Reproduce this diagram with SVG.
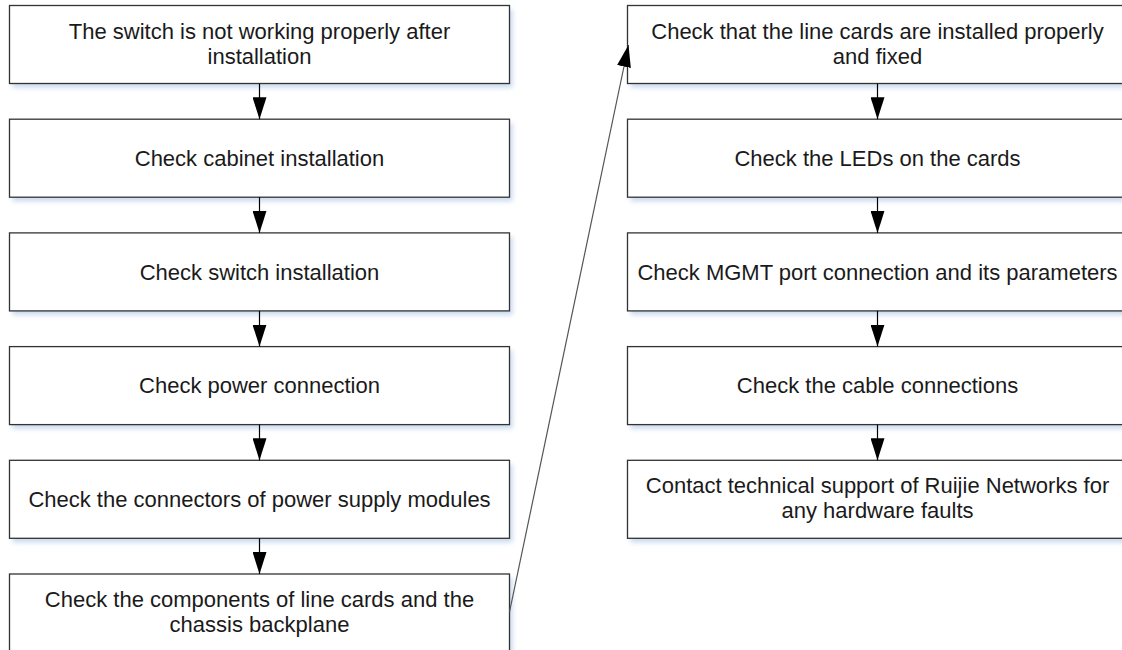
<svg xmlns="http://www.w3.org/2000/svg" width="1122" height="650" viewBox="0 0 1122 650">
<defs>
<style>
.box{fill:#ffffff;stroke:#333333;stroke-width:1.3}
.shadow{fill:#c9d9ef;filter:url(#blur)}
.t{font-family:"Liberation Sans",Arial,sans-serif;font-size:22px;fill:#1a1a1a;text-anchor:middle}
.conn{stroke:#000000;stroke-width:1.2;fill:none;marker-end:url(#ah)}
.diag{stroke:#555555;stroke-width:1.2;fill:none;marker-end:url(#ah)}
</style>
<filter id="blur" x="-5%" y="-20%" width="110%" height="140%"><feGaussianBlur stdDeviation="2.5"/></filter>
<marker id="ah" viewBox="0 0 22 14" refX="22" refY="7" markerWidth="22" markerHeight="14" markerUnits="userSpaceOnUse" orient="auto">
<path d="M0,0 L22,7 L0,14 z" fill="#000000"/>
</marker>
</defs>
<rect width="1122" height="650" fill="#ffffff"/>

<g id="n1"><rect class="shadow" x="12.5" y="9.5" width="500" height="78"/><rect class="box" x="9.5" y="5.5" width="500" height="78"/>
<text class="t" x="259.5" y="38.6">The switch is not working properly after</text><text class="t" x="259.5" y="63.6">installation</text></g>

<g id="n2"><rect class="shadow" x="12.5" y="123.2" width="500" height="78"/><rect class="box" x="9.5" y="119.2" width="500" height="78"/>
<text class="t" x="259.5" y="166">Check cabinet installation</text></g>

<g id="n3"><rect class="shadow" x="12.5" y="236.9" width="500" height="78"/><rect class="box" x="9.5" y="232.9" width="500" height="78"/>
<text class="t" x="259.5" y="279.7">Check switch installation</text></g>

<g id="n4"><rect class="shadow" x="12.5" y="350.6" width="500" height="78"/><rect class="box" x="9.5" y="346.6" width="500" height="78"/>
<text class="t" x="259.5" y="393.4">Check power connection</text></g>

<g id="n5"><rect class="shadow" x="12.5" y="464.3" width="500" height="78"/><rect class="box" x="9.5" y="460.3" width="500" height="78"/>
<text class="t" x="259.5" y="507.1">Check the connectors of power supply modules</text></g>

<g id="n6"><rect class="shadow" x="12.5" y="578" width="500" height="78"/><rect class="box" x="9.5" y="574" width="500" height="78"/>
<text class="t" x="259.5" y="606.9">Check the components of line cards and the</text><text class="t" x="259.5" y="631.9">chassis backplane</text></g>

<g id="n7"><rect class="shadow" x="630.5" y="9.5" width="500" height="78"/><rect class="box" x="627.5" y="5.5" width="500" height="78"/>
<text class="t" x="877.5" y="38.6">Check that the line cards are installed properly</text><text class="t" x="877.5" y="63.6">and fixed</text></g>

<g id="n8"><rect class="shadow" x="630.5" y="123.2" width="500" height="78"/><rect class="box" x="627.5" y="119.2" width="500" height="78"/>
<text class="t" x="877.5" y="166">Check the LEDs on the cards</text></g>

<g id="n9"><rect class="shadow" x="630.5" y="236.9" width="500" height="78"/><rect class="box" x="627.5" y="232.9" width="500" height="78"/>
<text class="t" x="877.5" y="279.7">Check MGMT port connection and its parameters</text></g>

<g id="n10"><rect class="shadow" x="630.5" y="350.6" width="500" height="78"/><rect class="box" x="627.5" y="346.6" width="500" height="78"/>
<text class="t" x="877.5" y="393.4">Check the cable connections</text></g>

<g id="n11"><rect class="shadow" x="630.5" y="464.3" width="500" height="78"/><rect class="box" x="627.5" y="460.3" width="500" height="78"/>
<text class="t" x="877.5" y="493.1">Contact technical support of Ruijie Networks for</text><text class="t" x="877.5" y="518.1">any hardware faults</text></g>

<g id="connectors">
<line class="conn" x1="259.5" y1="83.5" x2="259.5" y2="119.2"/>
<line class="conn" x1="259.5" y1="197.2" x2="259.5" y2="232.9"/>
<line class="conn" x1="259.5" y1="310.9" x2="259.5" y2="346.6"/>
<line class="conn" x1="259.5" y1="424.6" x2="259.5" y2="460.3"/>
<line class="conn" x1="259.5" y1="538.3" x2="259.5" y2="574"/>
<line class="diag" x1="509.5" y1="612" x2="628.5" y2="45"/>
<line class="conn" x1="877.5" y1="83.5" x2="877.5" y2="119.2"/>
<line class="conn" x1="877.5" y1="197.2" x2="877.5" y2="232.9"/>
<line class="conn" x1="877.5" y1="310.9" x2="877.5" y2="346.6"/>
<line class="conn" x1="877.5" y1="424.6" x2="877.5" y2="460.3"/>
</g>
</svg>
